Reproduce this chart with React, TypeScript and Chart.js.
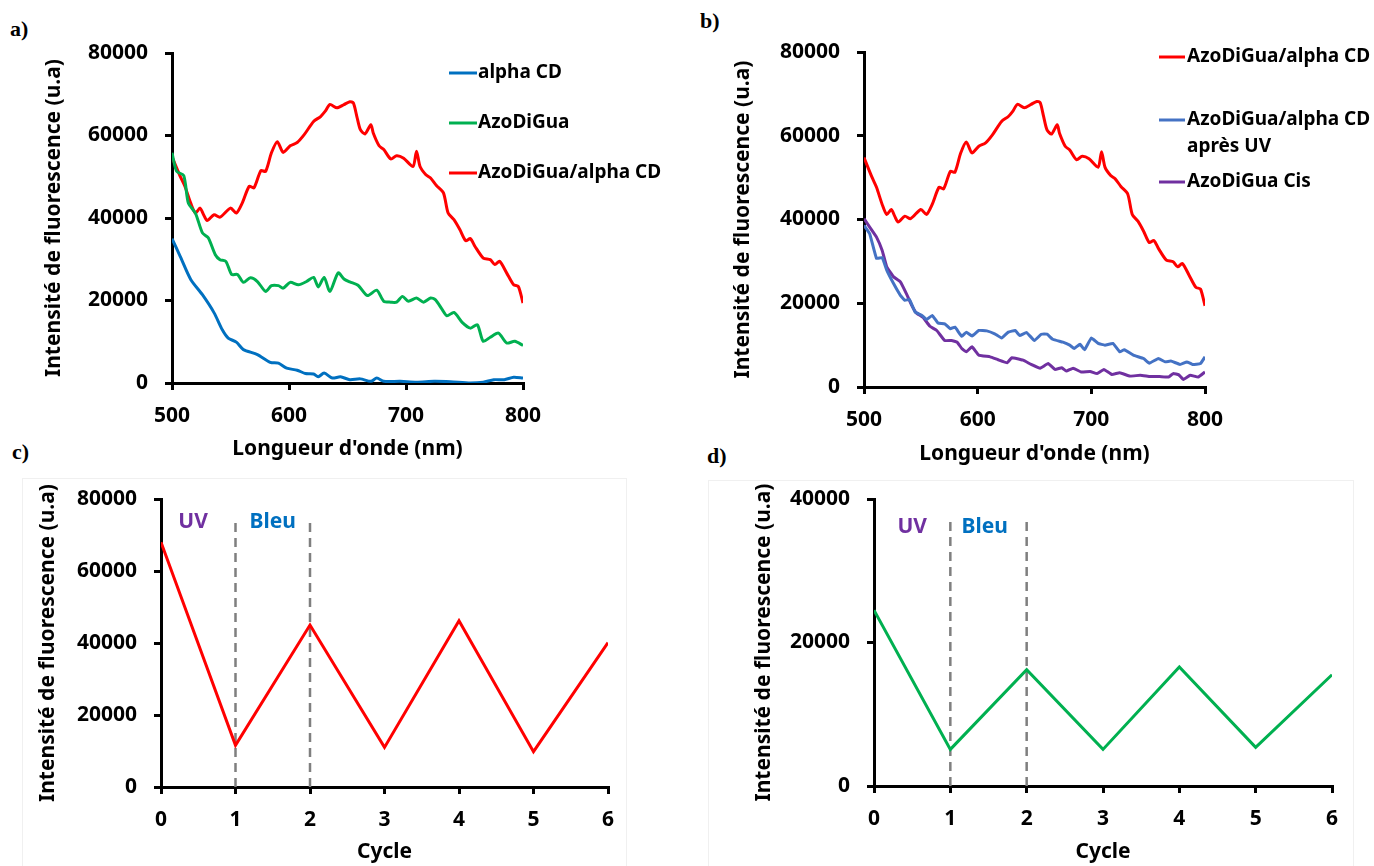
import React, { useEffect, useRef } from "react";
import { Chart, registerables } from "chart.js";

Chart.register(...registerables);

const FONT = "'Noto Sans', 'DejaVu Sans', sans-serif";

// ---------- Data: panels a) and b) (wavelength in nm, intensity in u.a) ----------
const redNm = [500,507,511,516,520,524,527,530,536,541,550,555,560,566,570,576,580,585,590,595,601,607,613,621,627,631,635,641,647,652,655,658,661,665,670,672,677,681,687,692,698,706,709,712,717,721,726,732,736,741,746,751,755,759,766,772,776,780,786,792,796,800];
const redVal = [54800,50100,47700,43600,41200,42400,40800,39400,40800,40200,42400,41200,43600,47700,47300,51500,51300,55800,58500,55900,57500,58300,60200,63400,64600,65900,67500,66700,67500,68200,67900,64600,61400,60400,62600,60600,57500,56600,54300,55100,54500,52500,56200,52500,50500,49700,47900,46100,41200,39600,37200,34500,35000,33100,30300,29900,28700,29500,26700,23800,23400,19400];

const greenNm = [500,504,510,514,520,526,531,537,541,546,551,556,561,567,573,580,585,591,595,601,608,615,621,625,630,635,642,647,652,659,667,675,681,687,692,697,702,709,715,721,725,731,735,741,748,755,761,766,772,779,786,793,800];
const greenVal = [55800,51300,50300,43600,41200,36400,35200,31100,29900,29500,26300,26300,24400,25500,24600,22200,23600,23600,23000,24400,23800,24600,25600,23300,25600,22200,26700,25200,24500,23700,21200,22500,19800,19600,19600,21000,19800,20600,19600,20600,20200,17800,16300,17100,14700,13300,14100,10100,11100,12100,9700,10100,9100];

const alphaNm = [500,507,516,526,536,543,548,555,561,573,584,591,598,607,614,621,625,630,637,644,652,661,670,675,681,695,709,724,738,755,766,775,784,792,800];
const alphaVal = [35000,30700,25100,21400,17000,12900,10900,9900,8100,6900,5000,4800,3600,3100,2300,2200,1500,2400,1200,1500,800,1000,400,1200,400,400,200,400,300,0,200,800,800,1400,1200];

const uvNm = [500,505,511,516,520,526,532,536,540,545,551,555,560,565,571,576,580,586,590,595,601,608,615,621,627,633,637,643,650,656,661,666,675,681,685,690,694,700,706,712,719,725,729,737,746,751,759,765,770,778,784,789,796,800];
const uvVal = [38600,36600,30700,30900,27900,24700,21900,20700,20900,17900,17100,16100,17100,15300,15100,13900,14300,12100,13100,12200,13500,13400,12700,11700,13100,13500,12300,13000,11100,12600,12600,11400,10700,10000,9200,10200,8900,11700,10400,10000,10400,8400,8900,7600,6800,5700,6800,6000,6200,5400,6000,5400,5600,7200];

const cisNm = [500,505,511,516,520,526,532,538,542,546,552,558,564,571,577,582,586,590,595,601,611,618,626,630,640,647,655,662,668,674,678,684,691,699,705,711,718,725,734,743,752,760,768,772,777,781,787,794,800];
const cisVal = [40200,38200,35800,32600,28700,26300,25100,21900,19500,17700,16600,14500,13500,11100,11100,10700,9200,8400,9600,7600,7200,6500,5800,7000,6400,5400,4500,5600,4200,4600,3800,4500,3600,3700,3200,4200,3000,3400,2600,2800,2500,2500,2400,3200,2900,1800,2800,2400,3600];

// ---------- Data: panels c) and d) (cycles) ----------
const cycles = [0, 1, 2, 3, 4, 5, 6];
const cycleRed = [68000, 11600, 45000, 11000, 46200, 9800, 40100];
const cycleGreen = [24500, 5100, 16200, 5100, 16600, 5400, 15500];
const switchCycles = [1, 2];

const seriesA = ["alpha CD", "AzoDiGua", "AzoDiGua/alpha CD"];
const seriesB = ["AzoDiGua/alpha CD", "AzoDiGua/alpha CD\napr\u00e8s UV", "AzoDiGua Cis"];
const yTitle = "Intensit\u00e9 de fluorescence (u.a)";
const xTitleNm = "Longueur d'onde (nm)";
const xTitleCycle = "Cycle";

const zip = (xs: number[], ys: number[]) => xs.map((x, i) => ({ x, y: ys[i] }));

const TICK_FONT = { family: FONT, size: 21, weight: "bold" as const };
const TITLE_FONT = { family: FONT, size: 21, weight: "bold" as const };

type Legend = { text: string; color: string; y: number }[];
type Note = { text: string; color: string; x: number; y: number };

type Panel = {
  left: number; top: number; width: number; height: number;
  area: { l: number; t: number; r: number; b: number };
  xMin: number; xMax: number; xStep: number;
  yMax: number; yStep: number;
  xTitle: string;
  datasets: any[];
  legend?: { x1: number; x2: number; tx: number; items: Legend };
  notes?: Note[];
};

const lineDs = (label: string, data: any[], color: string, tension = 0.25) => ({
  label, data, borderColor: color, backgroundColor: color, borderWidth: 3,
  pointRadius: 0, tension, fill: false,
});

const dashDs = (x: number, top: number) => ({
  label: "switch", data: [{ x, y: 0 }, { x, y: top }], borderColor: "#7f7f7f",
  borderWidth: 2.5, borderDash: [9, 6], pointRadius: 0, tension: 0, fill: false,
});

const panels: Panel[] = [
  {
    left: 41, top: 20, width: 649, height: 442,
    area: { l: 172, t: 53, r: 523, b: 383 },
    xMin: 500, xMax: 800, xStep: 100, yMax: 80000, yStep: 20000, xTitle: xTitleNm,
    datasets: [
      lineDs(seriesA[0], zip(alphaNm, alphaVal), "#0070c0"),
      lineDs(seriesA[1], zip(greenNm, greenVal), "#00b050"),
      lineDs(seriesA[2], zip(redNm, redVal), "#ff0000"),
    ],
    legend: {
      x1: 408, x2: 436, tx: 437,
      items: [
        { text: seriesA[0], color: "#0070c0", y: 53 },
        { text: seriesA[1], color: "#00b050", y: 103 },
        { text: seriesA[2], color: "#ff0000", y: 153 },
      ],
    },
  },
  {
    left: 730, top: 20, width: 644, height: 447,
    area: { l: 864, t: 52, r: 1205, b: 387 },
    xMin: 500, xMax: 800, xStep: 100, yMax: 80000, yStep: 20000, xTitle: xTitleNm,
    datasets: [
      lineDs(seriesB[0], zip(redNm, redVal), "#ff0000"),
      lineDs(seriesB[1], zip(uvNm, uvVal), "#4472c4", 0.1),
      lineDs(seriesB[2], zip(cisNm, cisVal), "#7030a0", 0.1),
    ],
    legend: {
      x1: 429, x2: 455, tx: 457,
      items: [
        { text: seriesB[0], color: "#ff0000", y: 37 },
        { text: seriesB[1], color: "#4472c4", y: 100 },
        { text: seriesB[2], color: "#7030a0", y: 162 },
      ],
    },
  },
  {
    left: 35, top: 466, width: 605, height: 399,
    area: { l: 161, t: 499, r: 608, b: 787 },
    xMin: 0, xMax: 6, xStep: 1, yMax: 80000, yStep: 20000, xTitle: xTitleCycle,
    datasets: [
      lineDs("AzoDiGua/alpha CD", zip(cycles, cycleRed), "#ff0000", 0),
      dashDs(switchCycles[0], 73500),
      dashDs(switchCycles[1], 73500),
    ],
    notes: [
      { text: "UV", color: "#7030a0", x: 0.43, y: 73500 },
      { text: "Bleu", color: "#0070c0", x: 1.5, y: 73500 },
    ],
  },
  {
    left: 751, top: 466, width: 623, height: 399,
    area: { l: 874, t: 499, r: 1332, b: 786 },
    xMin: 0, xMax: 6, xStep: 1, yMax: 40000, yStep: 20000, xTitle: xTitleCycle,
    datasets: [
      lineDs("AzoDiGua", zip(cycles, cycleGreen), "#00b050", 0),
      dashDs(switchCycles[0], 37400),
      dashDs(switchCycles[1], 37400),
    ],
    notes: [
      { text: "UV", color: "#7030a0", x: 0.5, y: 36100 },
      { text: "Bleu", color: "#0070c0", x: 1.45, y: 36100 },
    ],
  },
];

function buildConfig(p: Panel): any {
  const padTop = p.area.t - p.top;
  const padRight = p.left + p.width - p.area.r;
  const yW = p.area.l - p.left;
  const xH = p.top + p.height - p.area.b;
  const grid = { drawOnChartArea: false, drawTicks: true, tickLength: 7, lineWidth: 3, color: "#000" };
  const border = { display: true, color: "#000", width: 3 };
  const overlay = {
    id: "overlay",
    afterDraw(chart: any) {
      const ctx = chart.ctx;
      ctx.save();
      if (p.legend) {
        ctx.font = `bold 19px ${FONT}`;
        ctx.textBaseline = "middle";
        ctx.textAlign = "left";
        for (const it of p.legend.items) {
          ctx.strokeStyle = it.color;
          ctx.lineWidth = 3;
          ctx.beginPath();
          ctx.moveTo(p.legend.x1, it.y);
          ctx.lineTo(p.legend.x2, it.y);
          ctx.stroke();
          ctx.fillStyle = "#000";
          it.text.split("\n").forEach((ln, i) => ctx.fillText(ln, p.legend!.tx, it.y + i * 27));
        }
      }
      if (p.notes) {
        ctx.font = `bold 21px ${FONT}`;
        ctx.textBaseline = "middle";
        ctx.textAlign = "center";
        for (const n of p.notes) {
          ctx.fillStyle = n.color;
          ctx.fillText(n.text, chart.scales.x.getPixelForValue(n.x), chart.scales.y.getPixelForValue(n.y));
        }
      }
      ctx.restore();
    },
  };
  return {
    type: "line",
    data: { datasets: p.datasets },
    options: {
      responsive: false,
      animation: false,
      devicePixelRatio: 1,
      layout: { padding: { top: padTop, right: padRight, left: 0, bottom: 0 } },
      plugins: { legend: { display: false }, tooltip: { enabled: false } },
      scales: {
        x: {
          type: "linear", min: p.xMin, max: p.xMax,
          ticks: { stepSize: p.xStep, font: TICK_FONT, color: "#000", padding: 13, maxRotation: 0, autoSkip: false, callback: (v: any) => String(v) },
          grid, border,
          title: { display: true, text: p.xTitle, font: TITLE_FONT, color: "#000", padding: 0 },
          afterFit: (s: any) => { s.height = xH; },
        },
        y: {
          type: "linear", min: 0, max: p.yMax,
          ticks: { stepSize: p.yStep, font: TICK_FONT, color: "#000", padding: 17, callback: (v: any) => String(v) },
          grid, border,
          title: { display: true, text: yTitle, font: TITLE_FONT, color: "#000", padding: 0 },
          afterFit: (s: any) => { s.width = yW; },
        },
      },
    },
    plugins: [overlay],
  };
}

function PanelChart({ p }: { p: Panel }) {
  const ref = useRef<HTMLCanvasElement>(null);
  useEffect(() => {
    if (!ref.current) return;
    const chart = new Chart(ref.current, buildConfig(p));
    return () => chart.destroy();
  }, [p]);
  return (
    <canvas
      ref={ref}
      width={p.width}
      height={p.height}
      style={{ position: "absolute", left: p.left, top: p.top, width: p.width, height: p.height }}
    />
  );
}

const panelLabels = [
  { text: "a)", left: 10, top: 17 },
  { text: "b)", left: 700, top: 9 },
  { text: "c)", left: 12, top: 440 },
  { text: "d)", left: 707, top: 444 },
];

const frames = [
  { left: 22, top: 478, width: 605, height: 400 },
  { left: 708, top: 480, width: 646, height: 400 },
];

export default function App() {
  return (
    <div style={{ position: "absolute", left: 0, top: 0, width: 1374, height: 866, background: "#fff", overflow: "hidden" }}>
      {frames.map((f, i) => (
        <div key={"f" + i} style={{ position: "absolute", left: f.left, top: f.top, width: f.width, height: f.height, border: "1px solid #f0f0f0", boxSizing: "border-box" }} />
      ))}
      {panels.map((p, i) => <PanelChart key={i} p={p} />)}
      {panelLabels.map((l) => (
        <div key={l.text} style={{ position: "absolute", left: l.left, top: l.top, font: "bold 22px 'Liberation Serif', 'Times New Roman', serif", color: "#000", lineHeight: "24px" }}>
          {l.text}
        </div>
      ))}
    </div>
  );
}
